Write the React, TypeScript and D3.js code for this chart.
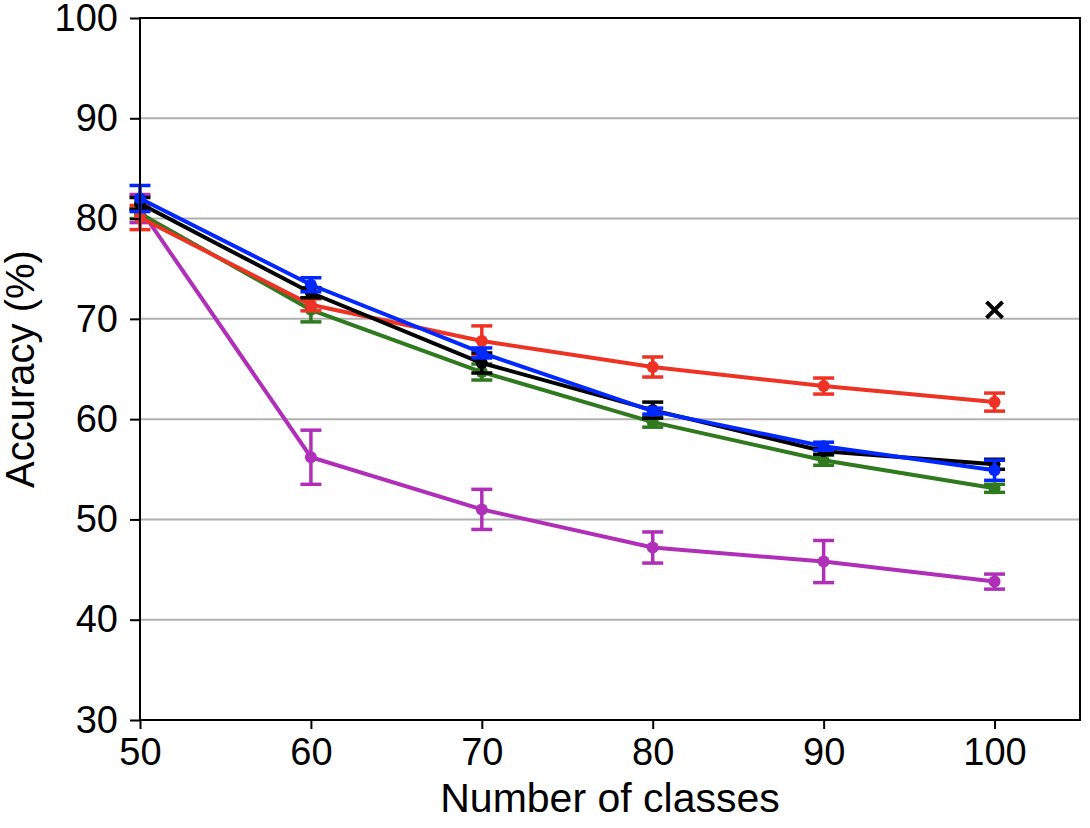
import { useEffect, useRef } from "react"
import * as d3 from "d3"

// Number of classes on the x axis
const classes = [50, 60, 70, 80, 90, 100]

// mean accuracy and std for each method
const redMean = [80.1, 71.4, 67.8, 65.2, 63.3, 61.7]
const redErr = [1.2, 0.6, 1.5, 1.0, 0.8, 0.9]
const blueMean = [82.0, 73.4, 66.6, 60.8, 57.3, 54.9]
const blueErr = [1.3, 0.7, 0.5, 0.3, 0.4, 1.0]
const blackMean = [81.5, 72.6, 65.6, 60.9, 56.8, 55.5]
const blackErr = [0.6, 0.5, 1.0, 0.8, 0.3, 0.5]
const greenMean = [80.5, 70.9, 64.7, 59.7, 55.9, 53.1]
const greenErr = [0.5, 1.2, 0.8, 0.5, 0.5, 0.4]
const purpleMean = [81.0, 56.2, 51.0, 47.2, 45.8, 43.8]
const purpleErr = [1.4, 2.7, 2.0, 1.55, 2.1, 0.75]

// single reference point drawn as a cross
const crossX = [100]
const crossY = [70.9]

const yTicks = [30, 40, 50, 60, 70, 80, 90, 100]
const xTicks = [50, 60, 70, 80, 90, 100]

export default function App() {
  const svgRef = useRef<SVGSVGElement | null>(null)

  useEffect(() => {
    if (!svgRef.current) return
    const svg = d3.select(svgRef.current)
    svg.selectAll("*").remove()

    const width = 1090
    const height = 828
    const margin = { left: 140, right: 10, top: 18, bottom: 108 }
    const font = "Liberation Sans, Arial, sans-serif"

    const x = d3.scaleLinear().domain([50, 105]).range([margin.left, width - margin.right])
    const y = d3.scaleLinear().domain([30, 100]).range([height - margin.bottom, margin.top])

    // horizontal grid
    svg
      .append("g")
      .selectAll("line")
      .data(yTicks.slice(1, -1))
      .enter()
      .append("line")
      .attr("x1", x(50))
      .attr("x2", x(105))
      .attr("y1", (d) => y(d))
      .attr("y2", (d) => y(d))
      .attr("stroke", "#b0b0b0")
      .attr("stroke-width", 2)

    const series = [
      { mean: purpleMean, err: purpleErr, color: "#b02fb8" },
      { mean: greenMean, err: greenErr, color: "#2f7a1f" },
      { mean: redMean, err: redErr, color: "#ee3224" },
      { mean: blackMean, err: blackErr, color: "#000000" },
      { mean: blueMean, err: blueErr, color: "#0028ff" },
    ]

    const line = d3
      .line<number>()
      .x((d, i) => x(classes[i]))
      .y((d) => y(d))

    series.forEach((s) => {
      const g = svg.append("g")
      g.append("path")
        .attr("d", line(s.mean))
        .attr("fill", "none")
        .attr("stroke", s.color)
        .attr("stroke-width", 4)

      // error bars
      const bars = g.selectAll(".eb").data(s.mean).enter().append("g")
      bars
        .append("line")
        .attr("x1", (d, i) => x(classes[i]))
        .attr("x2", (d, i) => x(classes[i]))
        .attr("y1", (d, i) => y(d - s.err[i]))
        .attr("y2", (d, i) => y(d + s.err[i]))
        .attr("stroke", s.color)
        .attr("stroke-width", 3.5)
      ;[-1, 1].forEach((sign) => {
        bars
          .append("line")
          .attr("x1", (d, i) => x(classes[i]) - 10.5)
          .attr("x2", (d, i) => x(classes[i]) + 10.5)
          .attr("y1", (d, i) => y(d + sign * s.err[i]))
          .attr("y2", (d, i) => y(d + sign * s.err[i]))
          .attr("stroke", s.color)
          .attr("stroke-width", 3.5)
      })
      bars
        .append("circle")
        .attr("cx", (d, i) => x(classes[i]))
        .attr("cy", (d) => y(d))
        .attr("r", 6)
        .attr("fill", s.color)
    })

    // cross marker
    svg
      .selectAll(".cross")
      .data(crossY)
      .enter()
      .append("path")
      .attr("d", d3.symbol(d3.symbolX, 170)())
      .attr("transform", (d, i) => `translate(${x(crossX[i])},${y(d)})`)
      .attr("fill", "none")
      .attr("stroke", "#000")
      .attr("stroke-width", 4)

    // frame
    svg
      .append("rect")
      .attr("x", x(50))
      .attr("y", y(100))
      .attr("width", x(105) - x(50))
      .attr("height", y(30) - y(100))
      .attr("fill", "none")
      .attr("stroke", "#000")
      .attr("stroke-width", 2)

    // axes
    const xAxis = svg
      .append("g")
      .attr("transform", `translate(0,${y(30)})`)
      .call(d3.axisBottom(x).tickValues(xTicks).tickSize(9).tickPadding(9).tickFormat(d3.format("d")))
    const yAxis = svg
      .append("g")
      .attr("transform", `translate(${x(50)},0)`)
      .call(d3.axisLeft(y).tickValues(yTicks).tickSize(10).tickPadding(12).tickFormat(d3.format("d")))
    ;[xAxis, yAxis].forEach((a) => {
      a.select(".domain").remove()
      a.selectAll(".tick line").attr("stroke", "#000").attr("stroke-width", 2)
      a.selectAll(".tick text").attr("font-size", 38).attr("font-family", font).attr("fill", "#000")
    })

    svg
      .append("text")
      .attr("x", (x(50) + x(105)) / 2)
      .attr("y", 812)
      .attr("text-anchor", "middle")
      .attr("font-size", 41)
      .attr("font-family", font)
      .text("Number of classes")

    svg
      .append("text")
      .attr("transform", `translate(34,${(y(30) + y(100)) / 2}) rotate(-90)`)
      .attr("text-anchor", "middle")
      .attr("font-size", 40)
      .attr("font-family", font)
      .text("Accuracy (%)")
  }, [])

  return (
    <svg
      ref={svgRef}
      width={1090}
      height={828}
      style={{ position: "absolute", left: 0, top: 0, background: "#fff" }}
    ></svg>
  )
}
